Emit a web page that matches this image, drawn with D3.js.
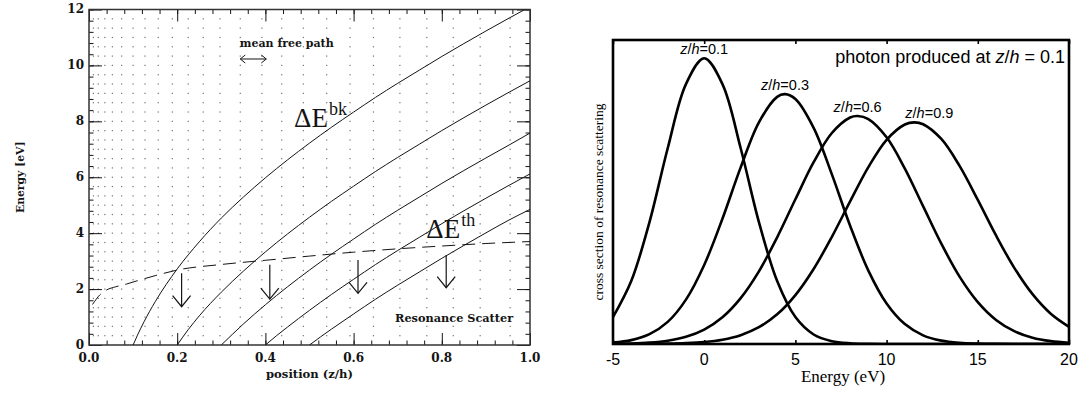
<!DOCTYPE html>
<html><head><meta charset="utf-8">
<script src="https://cdn.jsdelivr.net/npm/d3@7"></script>
<style>body{margin:0;background:#fff}</style>
</head><body><svg id="c" width="1083" height="395"></svg>
<script>
// ================= LEFT PANEL DATA =================
const posTicks = [0.0, 0.2, 0.4, 0.6, 0.8, 1.0];
const energyTicks = [0, 2, 4, 6, 8, 10, 12];
// energy-loss curves (ΔE^bk family) starting at z/h = 0.1 ... 0.5
const c1Pos = [0.1,0.11,0.125,0.15,0.175,0.2,0.25,0.3,0.35,0.4,0.45,0.5,0.55,0.6,0.65,0.7,0.75,0.8,0.85,0.9,0.95,1.0];
const c1E   = [0,0.354,0.837,1.546,2.165,2.72,3.69,4.54,5.29,5.98,6.62,7.22,7.79,8.33,8.86,9.36,9.84,10.32,10.78,11.23,11.67,12.10];
const c2Pos = [0.2,0.225,0.25,0.3,0.35,0.4,0.45,0.5,0.55,0.6,0.65,0.7,0.75,0.8,0.85,0.9,0.95,1.0];
const c2E   = [0,0.55,1.04,1.89,2.64,3.33,3.97,4.57,5.14,5.68,6.21,6.71,7.19,7.67,8.13,8.58,9.02,9.45];
const c3Pos = [0.3,0.325,0.35,0.4,0.45,0.5,0.55,0.6,0.65,0.7,0.75,0.8,0.85,0.9,0.95,1.0];
const c3E   = [0,0.38,0.75,1.44,2.08,2.68,3.25,3.79,4.32,4.82,5.30,5.78,6.24,6.69,7.13,7.58];
const c4Pos = [0.4,0.425,0.45,0.5,0.55,0.6,0.65,0.7,0.75,0.8,0.85,0.9,0.95,1.0];
const c4E   = [0,0.33,0.64,1.24,1.81,2.35,2.88,3.38,3.86,4.34,4.80,5.25,5.69,6.12];
const c5Pos = [0.5,0.525,0.55,0.6,0.65,0.7,0.75,0.8,0.85,0.9,0.95,1.0];
const c5E   = [0,0.29,0.57,1.11,1.64,2.14,2.62,3.10,3.56,4.01,4.45,4.85];
// threshold (ΔE^th, dashed)
const thPos = [0.008,0.025,0.04,0.06,0.085,0.11,0.15,0.2,0.3,0.4,0.5,0.6,0.7,0.8,0.9,1.0];
const thE   = [1.45,1.80,1.97,2.08,2.18,2.30,2.48,2.68,2.88,3.03,3.18,3.32,3.44,3.54,3.63,3.70];
// resonance scatter arrows
const arrowPos = [0.21, 0.41, 0.61, 0.81];
const arrowTop = [2.57, 2.87, 3.04, 3.22];
const arrowBottom = [1.37, 1.64, 1.85, 2.05];
// dotted mean-free-path grid columns
const gridPos = [0.01,0.021,0.036,0.053,0.074,0.1,0.127,0.157,0.189,0.225,0.259,0.297,0.343,0.392,0.437,0.486,0.539,0.592,0.645,0.705,0.766,0.826,0.887,0.955];
const gridRowStep = 1/3;
// mean free path marker
const mfpPos = [0.343, 0.402];
const mfpE = 10.23;

// ================= RIGHT PANEL DATA =================
const eTicks = [-5, 0, 5, 10, 15, 20];
const zLabels = ["0.1", "0.3", "0.6", "0.9"];
const sAE = [-5,-4,-3,-2,-1,0,1,2,3,4,5,6,7,8,9,10,11,12,13,14,15,16,17,18,19,20];
const sAV = [0.0885,0.207,0.401,0.644,0.855,0.94,0.855,0.644,0.401,0.207,0.0885,0.0313,0.0092,0.0022,0.0004,0,0,0,0,0,0,0,0,0,0,0];
const sBE = [-5,-4,-3,-2,-1,0,1,2,3,4,4.43,5,6,7,8,9,10,11,12,13,14,15,16,17,18,19,20];
const sBV = [0.0045,0.0127,0.0323,0.0727,0.146,0.260,0.412,0.581,0.729,0.813,0.822,0.806,0.711,0.558,0.389,0.2415,0.1333,0.0654,0.0285,0.0111,0.0038,0.0012,0.0003,0,0,0,0];
const sCE = [-5,-4,-3,-2,-1,0,1,2,3,4,5,6,7,8,8.41,9,10,11,12,13,14,15,16,17,18,19,20];
const sCV = [0.0007,0.0018,0.0047,0.0109,0.0237,0.0475,0.088,0.151,0.239,0.351,0.476,0.598,0.694,0.745,0.75,0.740,0.680,0.577,0.4535,0.330,0.2216,0.1378,0.0792,0.0422,0.0207,0.0094,0.004];
const sDE = [-5,-4,-3,-2,-1,0,1,2,3,4,5,6,7,8,9,10,11,11.52,12,13,14,15,16,17,18,19,20];
const sDV = [0,0.0001,0.0004,0.0011,0.0028,0.0065,0.0143,0.0291,0.0552,0.0976,0.161,0.2468,0.3526,0.469,0.5817,0.6716,0.722,0.729,0.723,0.6744,0.5858,0.474,0.357,0.2506,0.1639,0.0997,0.0566];

// ================= DRAW =================
const svg = d3.select("#c");
const serifB = "'DejaVu Serif', serif";

// ---- left panel ----
const L = {x0: 89, x1: 530, y0: 345, y1: 9.5};
const xL = d3.scaleLinear().domain([0, 1]).range([L.x0, L.x1]);
const yL = d3.scaleLinear().domain([0, 12]).range([L.y0, L.y1]);
const gL = svg.append("g");
const ink = "#141414";

svg.append("defs").append("clipPath").attr("id", "clipL")
  .append("rect").attr("x", L.x0).attr("y", L.y1).attr("width", L.x1 - L.x0).attr("height", L.y0 - L.y1);

// dotted grid
const rows = d3.range(1, 36).map(i => i * gridRowStep);
const dots = [];
gridPos.forEach(p => rows.forEach(r => dots.push([p, r])));
gL.append("g").selectAll("rect").data(dots).join("rect")
  .attr("x", d => xL(d[0]) - 0.6).attr("y", d => yL(d[1]) - 0.6)
  .attr("width", 1.2).attr("height", 1.2).attr("fill", "#707070");

// ticks via d3 axes
const posMinor = d3.range(0, 1.0001, 0.04);
const eMinor = d3.range(0, 12.0001, 0.4);
function styleAxis(g) { g.select(".domain").remove(); g.selectAll("line").attr("stroke", ink).attr("stroke-width", 1); g.selectAll("text").remove(); }
gL.append("g").attr("transform", `translate(0,${L.y0})`).call(d3.axisBottom(xL).tickValues(posMinor).tickSize(-4.5)).call(styleAxis);
gL.append("g").attr("transform", `translate(0,${L.y0})`).call(d3.axisBottom(xL).tickValues(posTicks).tickSize(-12)).call(styleAxis);
gL.append("g").attr("transform", `translate(0,${L.y1})`).call(d3.axisTop(xL).tickValues(posMinor).tickSize(-4.5)).call(styleAxis);
gL.append("g").attr("transform", `translate(0,${L.y1})`).call(d3.axisTop(xL).tickValues(posTicks).tickSize(-12)).call(styleAxis);
gL.append("g").attr("transform", `translate(${L.x0},0)`).call(d3.axisLeft(yL).tickValues(eMinor).tickSize(-4.5)).call(styleAxis);
gL.append("g").attr("transform", `translate(${L.x0},0)`).call(d3.axisLeft(yL).tickValues(energyTicks).tickSize(-13)).call(styleAxis);
gL.append("g").attr("transform", `translate(${L.x1},0)`).call(d3.axisRight(yL).tickValues(eMinor).tickSize(-4.5)).call(styleAxis);
gL.append("g").attr("transform", `translate(${L.x1},0)`).call(d3.axisRight(yL).tickValues(energyTicks).tickSize(-13)).call(styleAxis);

gL.append("rect").attr("x", L.x0).attr("y", L.y1).attr("width", L.x1 - L.x0).attr("height", L.y0 - L.y1)
  .attr("fill", "none").attr("stroke", "#333").attr("stroke-width", 1.5);

// tick labels
gL.selectAll("text.xt").data(posTicks).join("text").attr("class", "xt")
  .attr("x", d => xL(d)).attr("y", 362).attr("text-anchor", "middle")
  .attr("font-family", serifB).attr("font-weight", "bold").attr("font-size", 12).attr("fill", ink)
  .text(d => d3.format(".1f")(d));
gL.selectAll("text.yt").data(energyTicks).join("text").attr("class", "yt")
  .attr("x", 84).attr("y", d => yL(d) + 3.8).attr("text-anchor", "end")
  .attr("font-family", serifB).attr("font-weight", "bold").attr("font-size", 12).attr("fill", ink)
  .text(d => d);
gL.append("text").attr("x", (L.x0 + L.x1) / 2 + 0).attr("y", 378).attr("text-anchor", "middle")
  .attr("font-family", serifB).attr("font-weight", "bold").attr("font-size", 11.6).attr("fill", ink)
  .text("position (z/h)");
gL.append("text").attr("transform", `translate(24,${(L.y0 + L.y1) / 2}) rotate(-90)`).attr("text-anchor", "middle")
  .attr("font-family", serifB).attr("font-weight", "bold").attr("font-size", 10.8).attr("fill", ink)
  .text("Energy [eV]");

// curves
const lineL = d3.line().x(d => xL(d[0])).y(d => yL(d[1])).curve(d3.curveMonotoneX);
const curves = [[c1Pos, c1E], [c2Pos, c2E], [c3Pos, c3E], [c4Pos, c4E], [c5Pos, c5E]];
const cg = gL.append("g").attr("clip-path", "url(#clipL)");
curves.forEach(([p, e]) => {
  cg.append("path").attr("d", lineL(d3.zip(p, e))).attr("fill", "none").attr("stroke", ink).attr("stroke-width", 1);
});
cg.append("path").attr("d", lineL(d3.zip(thPos, thE))).attr("fill", "none").attr("stroke", ink)
  .attr("stroke-width", 1).attr("stroke-dasharray", "13,7");

// arrows
arrowPos.forEach((p, i) => {
  const x = xL(p), yt = yL(arrowTop[i]), yb = yL(arrowBottom[i]);
  gL.append("line").attr("x1", x).attr("x2", x).attr("y1", yt).attr("y2", yb).attr("stroke", ink).attr("stroke-width", 1.2);
  gL.append("path").attr("d", `M${x - 9},${yb - 11}L${x},${yb}L${x + 9},${yb - 11}`).attr("fill", "none").attr("stroke", ink).attr("stroke-width", 1.2);
});

// mean free path
const mx0 = xL(mfpPos[0]), mx1 = xL(mfpPos[1]), my = yL(mfpE);
gL.append("path").attr("d", `M${mx0},${my}L${mx1},${my}M${mx0 + 5},${my - 4}L${mx0},${my}L${mx0 + 5},${my + 4}M${mx1 - 5},${my - 4}L${mx1},${my}L${mx1 - 5},${my + 4}`)
  .attr("fill", "none").attr("stroke", ink).attr("stroke-width", 1);
gL.append("text").attr("x", xL(0.342)).attr("y", yL(10.67)).attr("font-family", serifB).attr("font-weight", "bold")
  .attr("font-size", 11).attr("fill", ink).text("mean free path");
gL.append("text").attr("x", xL(0.694)).attr("y", yL(0.83)).attr("font-family", serifB).attr("font-weight", "bold")
  .attr("font-size", 11.3).attr("fill", ink).text("Resonance Scatter");

function deltaLabel(x, y, sup) {
  const t = gL.append("text").attr("x", x).attr("y", y).attr("font-family", "'Liberation Serif', serif")
    .attr("font-size", 27).attr("fill", ink);
  t.append("tspan").text("ΔE");
  t.append("tspan").attr("dy", -12).attr("dx", 1).attr("font-size", 18).text(sup);
}
deltaLabel(xL(0.465), yL(7.81), "bk");
deltaLabel(xL(0.765), yL(3.82), "th");

// ---- right panel ----
const R = {x0: 613, x1: 1069, y0: 344, y1: 40};
const xR = d3.scaleLinear().domain([-5, 20]).range([R.x0, R.x1]);
const yR = d3.scaleLinear().domain([0, 1]).range([R.y0, R.y1]);
const gR = svg.append("g");
svg.select("defs").append("clipPath").attr("id", "clipR")
  .append("rect").attr("x", R.x0).attr("y", R.y1).attr("width", R.x1 - R.x0).attr("height", R.y0 - R.y1);

const lineR = d3.line().x(d => xR(d[0])).y(d => yR(d[1])).curve(d3.curveCatmullRom.alpha(0.5));
const spectra = [[sAE, sAV], [sBE, sBV], [sCE, sCV], [sDE, sDV]];
const rg = gR.append("g").attr("clip-path", "url(#clipR)");
spectra.forEach(([e, v]) => {
  rg.append("path").attr("d", lineR(d3.zip(e, v))).attr("fill", "none").attr("stroke", "#000").attr("stroke-width", 2.6);
});

function styleAxisR(g) { g.select(".domain").remove(); g.selectAll("line").attr("stroke", "#000").attr("stroke-width", 1.6); g.selectAll("text").remove(); }
gR.append("g").attr("transform", `translate(0,${R.y0})`).call(d3.axisBottom(xR).tickValues(eTicks).tickSize(-4)).call(styleAxisR);
gR.append("g").attr("transform", `translate(0,${R.y1})`).call(d3.axisTop(xR).tickValues(eTicks).tickSize(-4)).call(styleAxisR);
gR.append("rect").attr("x", R.x0).attr("y", R.y1).attr("width", R.x1 - R.x0).attr("height", R.y0 - R.y1)
  .attr("fill", "none").attr("stroke", "#000").attr("stroke-width", 2.6);

gR.selectAll("text.xt").data(eTicks).join("text").attr("class", "xt")
  .attr("x", d => xR(d)).attr("y", 365).attr("text-anchor", "middle")
  .attr("font-family", "'Liberation Sans', Arial, sans-serif").attr("font-size", 16).attr("fill", "#000")
  .text(d => d);
gR.append("text").attr("x", (R.x0 + R.x1) / 2 + 2).attr("y", 382).attr("text-anchor", "middle")
  .attr("font-family", "'Liberation Serif', serif").attr("font-size", 17).attr("fill", "#000").text("Energy (eV)");
gR.append("text").attr("transform", `translate(603,202) rotate(-90)`).attr("text-anchor", "middle")
  .attr("font-family", "'Liberation Serif', serif").attr("font-size", 13.5).attr("fill", "#000")
  .text("cross section of resonance scattering");

function zhText(sel, value, size) {
  sel.attr("font-family", "'Liberation Sans', Arial, sans-serif").attr("font-size", size).attr("fill", "#000");
  sel.append("tspan").attr("font-style", "italic").text("z");
  sel.append("tspan").text("/");
  sel.append("tspan").attr("font-style", "italic").text("h");
  sel.append("tspan").text(value);
}
const labelDx = [0, 0, 0, 15];
spectra.forEach(([e, v], i) => {
  const k = d3.maxIndex(v);
  const t = gR.append("text").attr("x", xR(e[k]) + labelDx[i]).attr("y", yR(v[k]) - 4).attr("text-anchor", "middle");
  zhText(t, "=" + zLabels[i], 14.5);
});
const ph = gR.append("text").attr("x", 1065).attr("y", 63).attr("text-anchor", "end");
ph.attr("font-family", "'Liberation Sans', Arial, sans-serif").attr("font-size", 18).attr("fill", "#000");
ph.append("tspan").text("photon produced at ");
ph.append("tspan").attr("font-style", "italic").text("z");
ph.append("tspan").text("/");
ph.append("tspan").attr("font-style", "italic").text("h");
ph.append("tspan").text(" = 0.1");
</script></body></html>
